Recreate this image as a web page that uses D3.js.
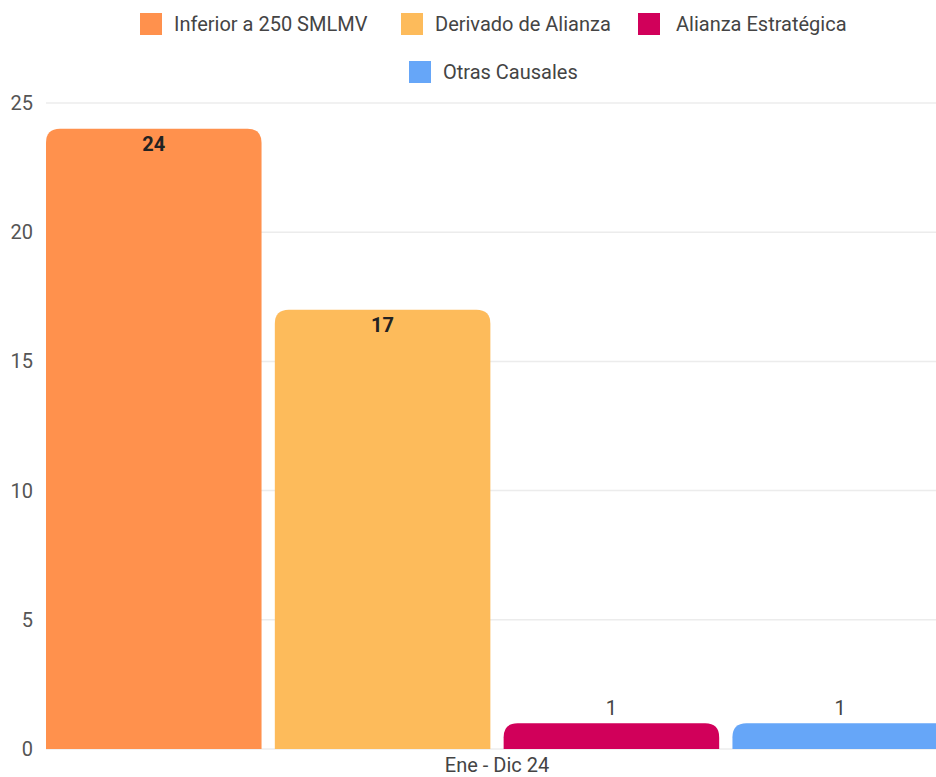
<!DOCTYPE html>
<meta charset="utf-8">
<script src="https://d3js.org/d3.v7.min.js"></script>
<style>
  body { margin: 0; background: #fff; overflow: hidden; }
  text { font-family: Roboto, "Open Sans", sans-serif; }
</style>
<body>
<div id="chart"></div>
<script>
// data
var categories = ["Ene - Dic 24"];
var seriesNames = ["Inferior a 250 SMLMV", "Derivado de Alianza", "Alianza Estratégica", "Otras Causales"];
var seriesValues = [24, 17, 1, 1];
var seriesColors = ["#ff914d", "#fdbb5b", "#d1005a", "#66a6f8"];
var yTicks = [0, 5, 10, 15, 20, 25];

var width = 936, height = 777;
var margin = {top: 103, right: -12, bottom: 28, left: 46};
var innerW = width - margin.left - margin.right,
    innerH = height - margin.top - margin.bottom;

var svg = d3.select("#chart").append("svg")
    .attr("width", width)
    .attr("height", height);

var g = svg.append("g")
    .attr("transform", "translate(" + margin.left + "," + margin.top + ")");

var y = d3.scaleLinear().domain([0, 25]).range([innerH, 0]);
var x0 = d3.scaleBand().domain(categories).range([0, innerW]).padding(0);
var x1 = d3.scaleBand().domain(seriesNames).range([0, x0.bandwidth()]).paddingInner(0.058).paddingOuter(0);

// grid
g.selectAll(".grid").data(yTicks).enter().append("line")
    .attr("x1", 0).attr("x2", innerW)
    .attr("y1", function(d) { return y(d); })
    .attr("y2", function(d) { return y(d); })
    .attr("stroke", "#ececec")
    .attr("stroke-width", 1.5);

// y axis labels
g.selectAll(".ylab").data(yTicks).enter().append("text")
    .attr("x", -13)
    .attr("y", function(d) { return y(d); })
    .attr("dy", "0.35em")
    .attr("text-anchor", "end")
    .style("font-size", "20px")
    .style("fill", "#555")
    .text(function(d) { return d; });

// rounded-top bars
function barPath(x, yTop, w, h, r) {
  r = Math.min(r, h, w / 2);
  return "M" + x + "," + (yTop + h) +
    "V" + (yTop + r) +
    "Q" + x + "," + yTop + " " + (x + r) + "," + yTop +
    "H" + (x + w - r) +
    "Q" + (x + w) + "," + yTop + " " + (x + w) + "," + (yTop + r) +
    "V" + (yTop + h) + "Z";
}

var bars = g.append("g").attr("transform", "translate(" + x0(categories[0]) + ",0)");
bars.selectAll("path").data(seriesValues).enter().append("path")
    .attr("fill", function(d, i) { return seriesColors[i]; })
    .attr("d", function(d, i) {
      return barPath(x1(seriesNames[i]), y(d), x1.bandwidth(), innerH - y(d), 14);
    });

// value labels
bars.selectAll("text").data(seriesValues).enter().append("text")
    .attr("x", function(d, i) { return x1(seriesNames[i]) + x1.bandwidth() / 2; })
    .attr("y", function(d) { return d > 5 ? y(d) + 22 : y(d) - 8; })
    .attr("text-anchor", "middle")
    .style("font-size", "20px")
    .style("font-weight", function(d) { return d > 5 ? "bold" : "normal"; })
    .style("fill", function(d) { return d > 5 ? "#222" : "#444"; })
    .text(function(d) { return d; });

// x axis label
g.selectAll(".xlab").data(categories).enter().append("text")
    .attr("x", function(d) { return x0(d) + x0.bandwidth() / 2; })
    .attr("y", innerH + 23)
    .attr("text-anchor", "middle")
    .style("font-size", "20px")
    .style("fill", "#444")
    .text(function(d) { return d; });

// legend
var legendPos = [[140, 24], [401, 24], [638, 24], [409, 72]];
var legend = svg.selectAll(".legend").data(seriesNames).enter().append("g")
    .attr("transform", function(d, i) { return "translate(" + legendPos[i][0] + "," + legendPos[i][1] + ")"; });
legend.append("rect")
    .attr("x", 0).attr("y", -11)
    .attr("width", 22).attr("height", 22)
    .attr("fill", function(d, i) { return seriesColors[i]; });
legend.append("text")
    .attr("x", function(d, i) { return i === 2 ? 38 : 34; }).attr("y", 0)
    .attr("dy", "0.35em")
    .style("font-size", "20px")
    .style("fill", "#444")
    .text(function(d) { return d; });
</script>
</body>
